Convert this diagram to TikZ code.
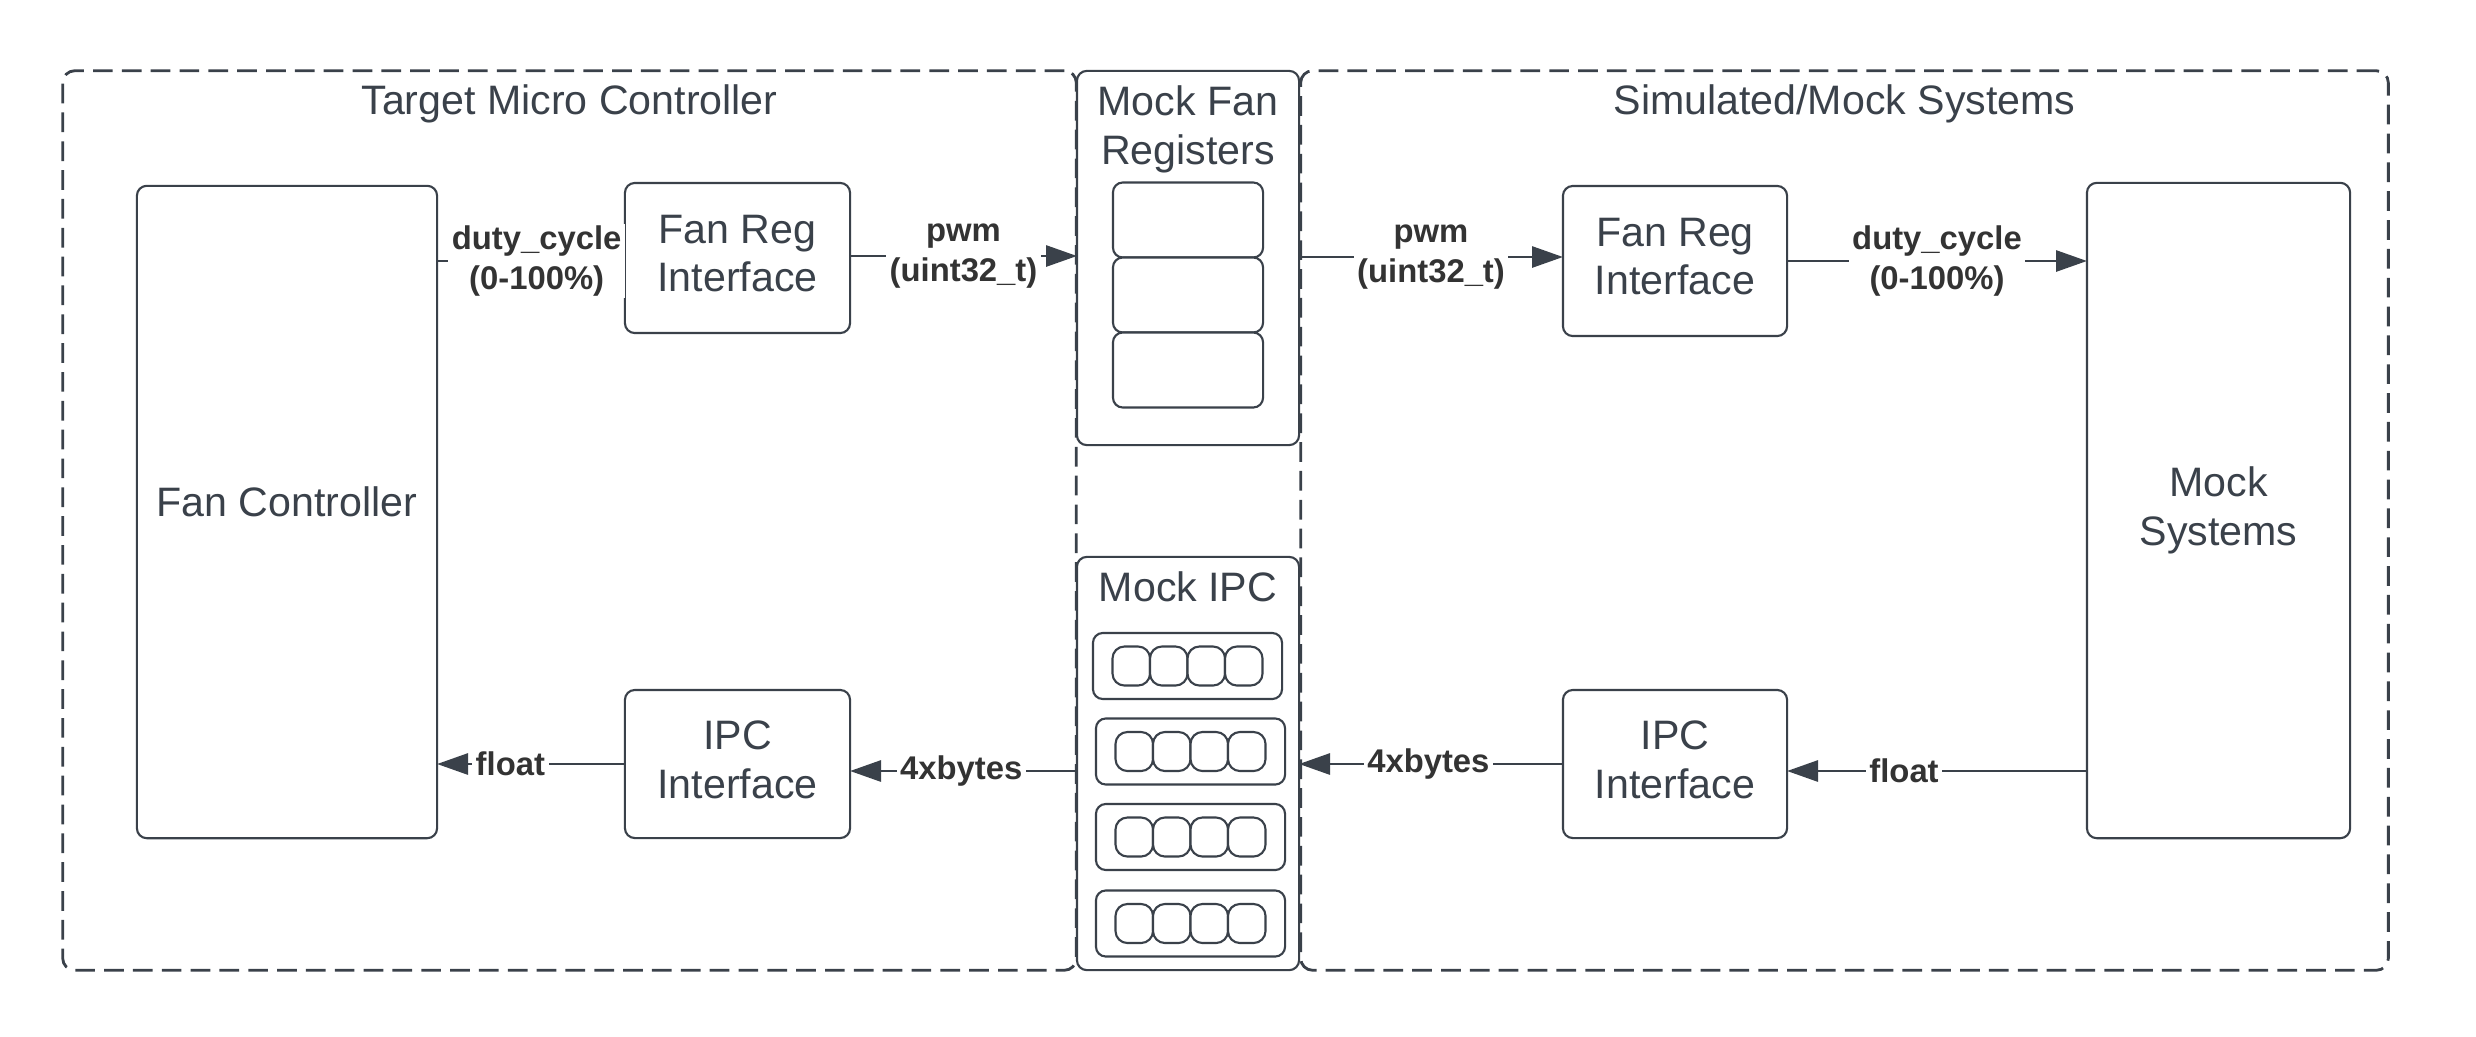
\documentclass[tikz,border=0pt]{standalone}
\usepackage{fontspec}
\usetikzlibrary{arrows.meta}
\newfontfamily\lsans{Liberation Sans}
\newcommand\ndfont{\lsans\fontsize{11.7}{13.9}\selectfont}
\newcommand\lbfont{\lsans\bfseries\fontsize{9.33}{11.2}\selectfont}
\definecolor{ln}{HTML}{3A414A}
\definecolor{lt}{HTML}{333333}
\tikzset{
  box/.style={draw=ln, line width=0.6pt, rounded corners=2.8pt, inner sep=0pt, outer sep=0pt,
    align=center, text=ln, font=\ndfont, fill=white},
  grp/.style={draw=ln, line width=0.8pt, dash pattern=on 5.6pt off 2.6pt, rounded corners=3.4pt,
    inner sep=0pt, outer sep=0pt},
  ttl/.style={align=center, text=ln, font=\ndfont, inner sep=0pt},
  conn/.style={draw=ln, line width=0.75pt},
  arr/.style={conn, -{Triangle[length=8.8pt,width=6pt]}},
  lbl/.style={fill=white, inner xsep=1pt, inner ysep=0.5pt, font=\lbfont, text=lt, align=center},
}
\begin{document}
\begin{tikzpicture}[x=0.01cm, y=-0.01cm]
\useasboundingbox (0,0) rectangle (2476,1036);

% group containers
\node[grp, minimum width=10.13cm, minimum height=8.99cm] (tmc) at (569.5,520.5) {};
\node[grp, minimum width=10.87cm, minimum height=8.99cm] (sms) at (1844.5,520.5) {};
\node[ttl] (tmct) at (569.5,104) {Target Micro Controller};
\node[ttl] (smst) at (1844.5,104) {Simulated/Mock Systems};

% target side
\node[box, minimum width=3.00cm, minimum height=6.52cm] (fc) at (287,512) {};
\node[ttl] (fct) at (287,502) {Fan Controller};
\node[box, minimum width=2.25cm, minimum height=1.50cm] (lfr) at (737.5,258) {};
\node[ttl] (lfrt) at (737.5,253.5) {Fan Reg\\Interface};
\node[box, minimum width=2.25cm, minimum height=1.48cm] (lipc) at (737.5,764) {};
\node[ttl] (lipct) at (737.5,759.5) {IPC\\Interface};

% simulated side
\node[box, minimum width=2.24cm, minimum height=1.50cm] (rfr) at (1675,261) {};
\node[ttl] (rfrt) at (1675,256.5) {Fan Reg\\Interface};
\node[box, minimum width=2.24cm, minimum height=1.48cm] (ripc) at (1675,764) {};
\node[ttl] (ripct) at (1675,759.5) {IPC\\Interface};
\node[box, minimum width=2.63cm, minimum height=6.55cm] (ms) at (2218.5,510.5) {};
\node[ttl] (mst) at (2218.5,510.5) {Mock\\Systems};

% mock fan registers
\node[box, minimum width=2.22cm, minimum height=3.74cm] (mfr) at (1188,258) {};
\node[ttl] (mfrt) at (1188,129.5) {Mock Fan\\Registers};
\foreach \i/\cy in {1/220,2/295,3/370}
  \node[box, minimum width=1.50cm, minimum height=0.75cm] (slot\i) at (1188,\cy) {};

% mock IPC
\node[box, minimum width=2.22cm, minimum height=4.13cm] (mipc) at (1188,763.5) {};
\node[ttl] (mipct) at (1188,587) {Mock IPC};
\foreach \r/\cx/\cy in {1/1187.5/666,2/1190.5/751.5,3/1190.5/837,4/1190.5/923.5}{
  \node[box, minimum width=1.89cm, minimum height=0.66cm] (row\r) at (\cx,\cy) {};
  \foreach \c/\dx in {1/-56.25,2/-18.75,3/18.75,4/56.25}
    \node[box, rounded corners=3.4pt, minimum width=0.375cm, minimum height=0.39cm]
      (cell\r\c) at (\cx+\dx,\cy) {};
}

% connectors
\draw[conn] (fc.east |- 0,261) -- node[lbl,pos=0.53]{duty\_cycle\\(0-100\%)} (lfr.west |- 0,261);
\draw[arr] (lfr.east |- 0,256) -- node[lbl,pos=0.5]{pwm\\(uint32\_t)} (mfr.west |- 0,256);
\draw[arr] (mfr.east |- 0,257) -- node[lbl,pos=0.5]{pwm\\(uint32\_t)} (rfr.west |- 0,257);
\draw[arr] (rfr.east |- 0,261) -- node[lbl,pos=0.5]{duty\_cycle\\(0-100\%)} (ms.west |- 0,261);
\draw[arr] (ms.west |- 0,771) -- node[lbl,pos=0.61]{float} (ripc.east |- 0,771);
\draw[arr] (ripc.west |- 0,764) -- node[lbl,pos=0.51]{4xbytes} (mipc.east |- 0,764);
\draw[arr] (mipc.west |- 0,771) -- node[lbl,pos=0.51]{4xbytes} (lipc.east |- 0,771);
\draw[arr] (lipc.west |- 0,764) -- node[lbl,pos=0.61]{float} (fc.east |- 0,764);
\end{tikzpicture}
\end{document}
